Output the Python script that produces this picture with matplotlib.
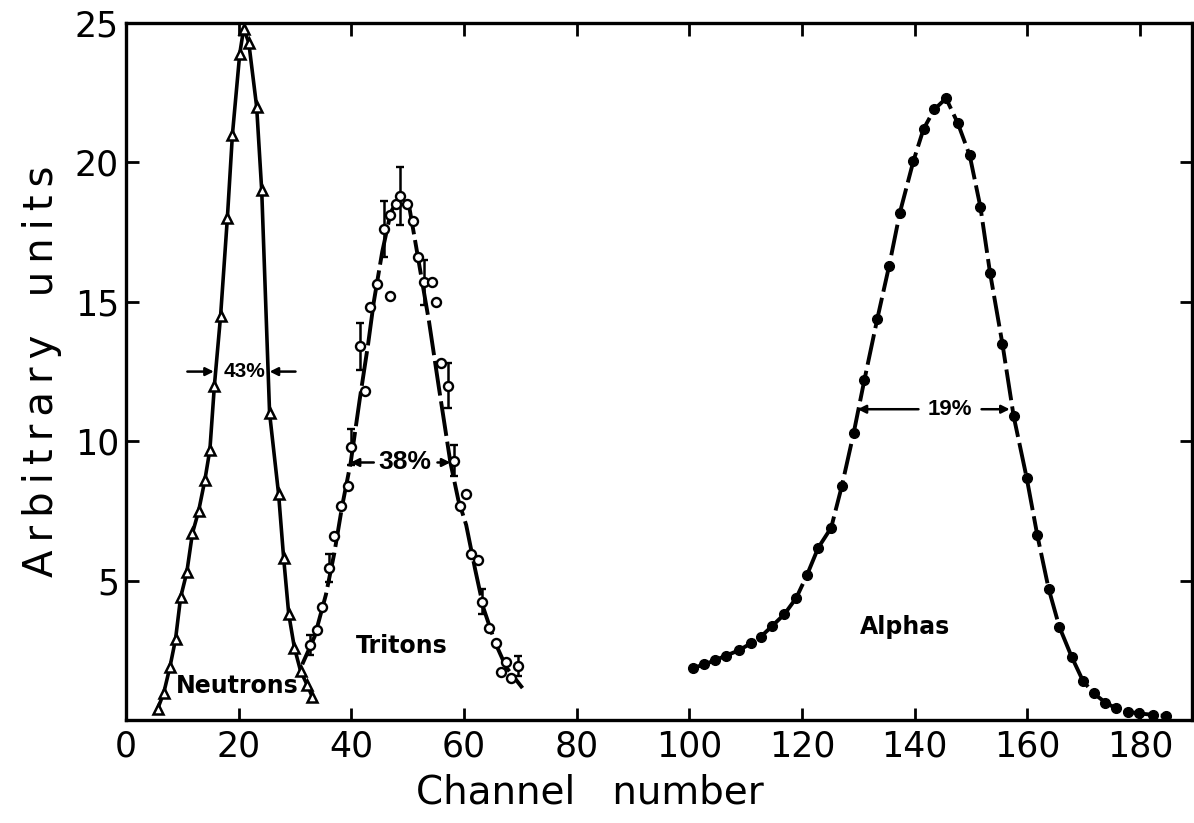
import matplotlib
matplotlib.use("Agg")
import matplotlib.pyplot as plt

# Neutrons (open triangles, solid line)
neutron_x = [5.6, 6.7, 7.8, 8.8, 9.7, 10.8, 11.8, 12.9, 14.0, 14.9, 15.7, 16.8, 18.0, 18.9,
             20.2, 20.9, 21.8, 23.2, 24.1, 25.5, 27.1, 28.0, 28.9, 29.9, 31.0, 32.2, 33.1]
neutron_y = [0.39, 0.97, 1.9, 2.9, 4.4, 5.3, 6.7, 7.5, 8.6, 9.7, 12.0, 14.5, 18.0, 21.0,
             23.9, 24.8, 24.3, 22.0, 19.0, 11.0, 8.1, 5.8, 3.8, 2.6, 1.76, 1.25, 0.82]

# Tritons (open circles, some with error bars)
triton_x = [32.6, 34.0, 34.8, 36.1, 36.9, 38.2, 39.4, 40.0, 41.5, 42.5, 43.4, 44.5, 45.8,
            46.8, 46.8, 48.0, 48.7, 49.9, 50.9, 51.8, 52.9, 54.4, 55.1, 56.0, 57.1, 58.2,
            59.3, 60.4, 61.2, 62.5, 63.2, 64.5, 65.7, 66.5, 67.5, 68.4, 69.6]
triton_y = [2.69, 3.25, 4.04, 5.46, 6.6, 7.68, 8.4, 9.8, 13.4, 11.8, 14.8, 15.65, 17.6,
            15.2, 18.1, 18.5, 18.8, 18.5, 17.9, 16.6, 15.7, 15.7, 15.0, 12.8, 12.0, 9.3,
            7.68, 8.1, 5.95, 5.73, 4.24, 3.32, 2.77, 1.73, 2.09, 1.52, 1.95]
triton_err = [0.36, 0, 0, 0.5, 0, 0, 0, 0.65, 0.85, 0, 0, 0, 1.0,
              0, 0, 0, 1.03, 0, 0, 0, 0.8, 0, 0, 0, 0.8, 0.55,
              0, 0, 0, 0, 0.45, 0, 0, 0, 0, 0, 0.36]

# hand-drawn curve through the triton points
triton_curve_x = [31.3, 33.5, 35.5, 37.0, 38.4, 39.9, 41.5, 43.0, 44.0, 45.5, 47.0, 48.7,
                  50.3, 51.5, 53.2, 53.8, 55.5, 57.6, 59.0, 60.4, 62.0, 63.5, 65.5, 67.5, 70.4]
triton_curve_y = [2.0, 3.0, 4.5, 6.0, 7.7, 9.24, 11.5, 13.5, 15.0, 16.8, 18.2, 18.85,
                  18.4, 17.0, 15.0, 14.3, 12.0, 9.24, 7.9, 7.0, 5.4, 4.0, 2.8, 1.9, 1.15]

# Alphas (filled dots, dashed line)
alpha_x = [100.7, 102.7, 104.5, 106.5, 108.9, 110.9, 112.7, 114.7, 116.9, 119.0, 120.9,
           122.9, 125.2, 127.1, 129.2, 131.1, 133.4, 135.5, 137.4, 139.8, 141.6, 143.5,
           145.6, 147.7, 149.8, 151.7, 153.4, 155.6, 157.6, 159.9, 161.8, 163.8, 165.7,
           167.9, 169.9, 171.8, 173.9, 175.8, 177.9, 179.9, 182.3, 184.6]
alpha_y = [1.87, 2.0, 2.14, 2.31, 2.51, 2.75, 2.99, 3.37, 3.8, 4.38, 5.2, 6.18, 6.9, 8.4,
           10.3, 12.2, 14.4, 16.3, 18.2, 20.05, 21.2, 21.9, 22.3, 21.4, 20.25, 18.4, 16.05,
           13.5, 10.9, 8.7, 6.63, 4.72, 3.35, 2.27, 1.41, 0.96, 0.63, 0.42, 0.30, 0.24,
           0.19, 0.15]

# FWHM markers: label, y level, left (tail, tip), right (tail, tip), text x
fwhm_labels = ["43%", "38%", "19%"]
fwhm_y = [12.5, 9.24, 11.15]
fwhm_left = [(10.9, 15.6), (44.0, 39.9), (140.7, 129.9)]
fwhm_right = [(30.1, 25.5), (55.3, 57.6), (151.9, 156.9)]
fwhm_text_x = [21.1, 49.6, 146.3]
fwhm_size = [15, 19, 16]

species = ["Neutrons", "Tritons", "Alphas"]
species_pos = [(19.8, 1.24), (48.9, 2.67), (138.4, 3.33)]

xticks = [0, 20, 40, 60, 80, 100, 120, 140, 160, 180]
yticks = [5, 10, 15, 20, 25]

TS = "\u2009"  # thin space for the wide lettering of the y label


def main():
    plt.rcParams["font.family"] = ["DejaVu Sans"]
    fig = plt.figure(figsize=(11.94, 8.23), dpi=100)
    ax = fig.add_axes([0.1055, 0.125, 0.893, 0.847])

    ax.plot(neutron_x, neutron_y, color="black", lw=2.6, marker="^", ms=7.5,
            mfc="white", mec="black", mew=1.8, zorder=3)

    ax.plot(triton_curve_x, triton_curve_y, color="black", lw=2.8,
            dashes=(9, 1.5), zorder=2)
    ax.errorbar(triton_x, triton_y, yerr=triton_err, fmt="o", ms=6.5, mfc="white",
                mec="black", mew=1.7, ecolor="black", elinewidth=1.8, capsize=3,
                capthick=1.8, zorder=3)

    ax.plot(alpha_x, alpha_y, color="black", lw=2.8, dashes=(8, 1.6), marker="o",
            ms=7, mfc="black", mec="black", zorder=3)

    for lab, y, (lt, lh), (rt, rh), tx, fs in zip(fwhm_labels, fwhm_y, fwhm_left,
                                                   fwhm_right, fwhm_text_x, fwhm_size):
        arrow = dict(arrowstyle="-|>", color="black", lw=1.8, mutation_scale=12,
                     shrinkA=0, shrinkB=0)
        ax.annotate("", xy=(lh, y), xytext=(lt, y), arrowprops=arrow)
        ax.annotate("", xy=(rh, y), xytext=(rt, y), arrowprops=arrow)
        ax.text(tx, y, lab, ha="center", va="center", fontsize=fs,
                fontweight="bold", family="Liberation Sans")

    for name, (sx, sy) in zip(species, species_pos):
        ax.text(sx, sy, name, ha="center", va="center", fontsize=17,
                fontweight="bold")

    ax.set_xlim(0, 189.3)
    ax.set_ylim(0, 25)
    ax.set_xticks(xticks)
    ax.set_yticks(yticks)
    ax.tick_params(direction="in", length=9, width=2, labelsize=25, pad=7,
                   top=True, right=True)
    ax.tick_params(axis="y", pad=5)
    for sp in ax.spines.values():
        sp.set_linewidth(2.4)

    ax.set_xlabel("Channel   number", fontsize=28)
    ax.xaxis.set_label_coords(0.435, -0.076)
    ylab = TS.join("Arbitrary") + "   " + TS.join("units")
    ax.set_ylabel(ylab, fontsize=29)
    ax.yaxis.set_label_coords(-0.06, 0.5)

    fig.savefig("out.png", dpi=100, facecolor="white")
    plt.close(fig)


if __name__ == "__main__":
    main()
